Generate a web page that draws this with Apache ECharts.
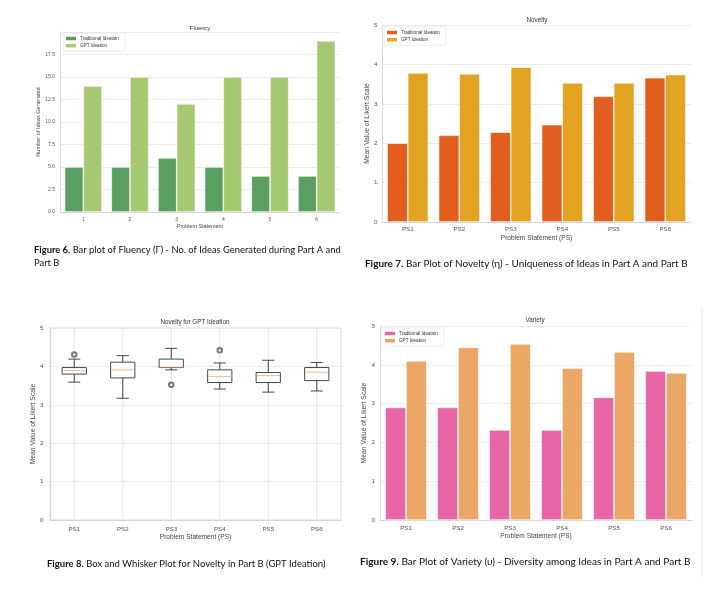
<!DOCTYPE html>
<html>
<head>
<meta charset="utf-8">
<script src="https://cdn.jsdelivr.net/npm/echarts@6/dist/echarts.min.js"></script>
<style>
html,body{margin:0;padding:0;background:#fff;}
#chart{width:710px;height:596px;}
</style>
</head>
<body>
<div id="chart"></div>
<script>
// ---------- data ----------
const fluencyCategories = ['1','2','3','4','5','6'];
const psCategories = ['PS1','PS2','PS3','PS4','PS5','PS6'];
const seriesNames = ['Traditional Ideation','GPT Ideation'];

const fluencyTraditional = [5,5,6,5,4,4];
const fluencyGPT = [14,15,12,15,15,19];

const noveltyTraditional = [2.00,2.20,2.28,2.47,3.19,3.66];
const noveltyGPT = [3.78,3.76,3.93,3.53,3.53,3.74];

const varietyTraditional = [2.90,2.90,2.32,2.32,3.16,3.84];
const varietyGPT = [4.10,4.45,4.54,3.91,4.33,3.79];

const boxMin    = [3.59,3.17,3.91,3.41,3.33,3.36];
const boxQ1     = [3.80,3.70,3.97,3.58,3.58,3.63];
const boxMedian = [3.89,3.91,3.98,3.74,3.76,3.85];
const boxQ3     = [3.97,4.11,4.19,3.91,3.84,3.97];
const boxMax    = [4.19,4.28,4.47,4.09,4.16,4.10];
const boxOutliers = [[0,4.31],[2,3.52],[3,4.42]];

const titles = ['Fluency','Novelty','Novelty for GPT Ideation','Variety'];
const captions = [
  ['Figure 6.',' Bar plot of Fluency (\u0393) - No. of Ideas Generated during Part A and'],
  ['Figure 7.',' Bar Plot of Novelty (\u03b7) - Uniqueness of Ideas in Part A and Part B'],
  ['Figure 8.',' Box and Whisker Plot for Novelty in Part B (GPT Ideation)'],
  ['Figure 9.',' Bar Plot of Variety (\u03c5) - Diversity among Ideas in Part A and Part B']
];
const caption6Line2 = 'Part B';

// ---------- styles ----------
const FONT = 'Liberation Sans, Arial, sans-serif';
const CAPFONT = 'Lato, Noto Sans, sans-serif';
const labelColor = '#555';
const gridColor = '#e6e6e6';
const spineColor = '#d0d0d0';

function fitSize(bold, normal, target, family, start) {
  const c = document.createElement('canvas').getContext('2d');
  c.font = 'bold ' + start + 'px ' + family;
  let w = c.measureText(bold).width;
  c.font = start + 'px ' + family;
  w += c.measureText(normal).width;
  return start * target / w;
}

const chart = echarts.init(document.getElementById('chart'), null, {renderer: 'canvas'});

function yAxisCfg(gi, max, interval, fs, margin, name, gap, fmt) {
  return {
    type: 'value', gridIndex: gi, min: 0, max: max, interval: interval,
    name: name, nameLocation: 'middle', nameGap: gap,
    nameTextStyle: {fontFamily: FONT, fontSize: fs + 0.6, color: '#444'},
    axisLine: {show: true, lineStyle: {color: spineColor, width: 0.8}},
    axisTick: {show: false},
    axisLabel: {fontFamily: FONT, fontSize: fs, color: labelColor, margin: margin,
      showMaxLabel: gi === 0 ? false : true, formatter: fmt},
    splitLine: {show: true, lineStyle: {color: gridColor, width: 0.8}}
  };
}
function xAxisCfg(gi, data, fs, margin, name, gap) {
  return {
    type: 'category', gridIndex: gi, data: data,
    name: name, nameLocation: 'middle', nameGap: gap,
    nameTextStyle: {fontFamily: FONT, fontSize: fs + 0.4, color: '#444'},
    axisLine: {show: true, lineStyle: {color: spineColor, width: 0.8}},
    axisTick: {show: false},
    axisLabel: {fontFamily: FONT, fontSize: fs, color: labelColor, margin: margin},
    splitLine: {show: false}
  };
}
function barSeries(key, name, xi, data, color) {
  return {
    type: 'bar', name: key + '|' + name, xAxisIndex: xi, yAxisIndex: xi, data: data,
    barGap: '0%', barCategoryGap: '20%',
    itemStyle: {color: color, borderColor: '#ffffff', borderWidth: 0.6},
    emphasis: {disabled: true}, animation: false
  };
}
function legendCfg(key, left, top, width) {
  return {
    orient: 'vertical', left: left, top: top, width: width,
    data: seriesNames.map(n => key + '|' + n),
    formatter: n => n.split('|')[1],
    icon: 'rect', itemWidth: 10, itemHeight: 3.5, itemGap: 2.2,
    padding: [3, 6, 3, 3],
    textStyle: {fontFamily: FONT, fontSize: 4.6, color: '#333', padding: [0,0,0,-1]},
    backgroundColor: '#fff', borderColor: '#dddddd', borderWidth: 0.6, borderRadius: 1.5,
    itemStyle: {borderWidth: 0}, selectedMode: false
  };
}

function boxRender(params, api) {
  const x = api.value(0);
  const lo = api.coord([x, api.value(1)]);
  const q1 = api.coord([x, api.value(2)]);
  const med = api.coord([x, api.value(3)]);
  const q3 = api.coord([x, api.value(4)]);
  const hi = api.coord([x, api.value(5)]);
  const bw = api.size([1, 0])[0] * 0.5;
  const cx = lo[0];
  const st = {stroke: '#333', lineWidth: 0.9, fill: null};
  return {
    type: 'group',
    children: [
      {type: 'line', shape: {x1: cx, y1: q3[1], x2: cx, y2: hi[1]}, style: st},
      {type: 'line', shape: {x1: cx, y1: q1[1], x2: cx, y2: lo[1]}, style: st},
      {type: 'line', shape: {x1: cx - bw/4, y1: hi[1], x2: cx + bw/4, y2: hi[1]}, style: st},
      {type: 'line', shape: {x1: cx - bw/4, y1: lo[1], x2: cx + bw/4, y2: lo[1]}, style: st},
      {type: 'rect', shape: {x: cx - bw/2, y: q3[1], width: bw, height: q1[1] - q3[1]},
        style: {stroke: '#333', lineWidth: 0.9, fill: '#fff'}},
      {type: 'line', shape: {x1: cx - bw/2 + 0.5, y1: med[1], x2: cx + bw/2 - 0.5, y2: med[1]},
        style: {stroke: '#f2a27c', lineWidth: 0.8}}
    ]
  };
}
function vGridRender(params, api) {
  const x = api.value(0);
  const a = api.coord([x, 0]);
  const b = api.coord([x, 5]);
  return {type: 'line', shape: {x1: a[0], y1: a[1], x2: b[0], y2: b[1]},
    style: {stroke: '#dedede', lineWidth: 0.8}};
}

const grids = [
  {left: 60, top: 32, width: 280, height: 180},
  {left: 382, top: 25, width: 309, height: 197},
  {left: 50, top: 328, width: 291, height: 192, show: true, borderColor: '#d4d4d4', borderWidth: 0.8, backgroundColor: 'transparent'},
  {left: 380, top: 326, width: 312, height: 194}
];

const titleCenters = [[200, 28], [537, 20], [195, 322.5], [535, 320.5]];
const titleSizes = [5.8, 6.3, 6.3, 6.3];

const graphics = [];
titles.forEach((t, i) => {
  graphics.push({type: 'text', x: titleCenters[i][0], y: titleCenters[i][1], silent: true,
    style: {text: t, fontFamily: FONT, fontSize: titleSizes[i], fill: '#333', textAlign: 'center', textVerticalAlign: 'middle'}});
});
const capPos = [[34, 250, 307], [365, 263.5, 323], [47, 563.5, 279], [360, 562, 331]];
captions.forEach((c, i) => {
  const fs = fitSize(c[0], c[1], capPos[i][2], CAPFONT, 10);
  graphics.push({type: 'text', x: capPos[i][0], y: capPos[i][1], silent: true,
    style: {text: '{b|' + c[0] + '}' + c[1], fontFamily: CAPFONT, fontSize: fs, fill: '#111',
      textVerticalAlign: 'middle',
      rich: {b: {fontFamily: CAPFONT, fontSize: fs, fontWeight: 'bold', fill: '#111'}}}});
  if (i === 0) {
    graphics.push({type: 'text', x: capPos[i][0], y: 262.5, silent: true,
      style: {text: caption6Line2, fontFamily: CAPFONT, fontSize: fs, fill: '#111', textVerticalAlign: 'middle'}});
  }
});
graphics.push({type: 'line', silent: true, shape: {x1: 702, y1: 307, x2: 702, y2: 577},
  style: {stroke: '#ececec', lineWidth: 1}});

const boxData = psCategories.map((c, i) => [i, boxMin[i], boxQ1[i], boxMedian[i], boxQ3[i], boxMax[i]]);

const option = {
  backgroundColor: '#ffffff',
  animation: false,
  grid: grids,
  legend: [
    legendCfg('F', 63, 33, 57),
    legendCfg('N', 384, 27, 64),
    legendCfg('V', 382, 328, 64)
  ],
  xAxis: [
    xAxisCfg(0, fluencyCategories, 5, 5.5, 'Problem Statement', 12),
    xAxisCfg(1, psCategories, 6.2, 4.5, 'Problem Statement (PS)', 12.5),
    xAxisCfg(2, psCategories, 6.2, 6, 'Problem Statement (PS)', 14),
    xAxisCfg(3, psCategories, 6.2, 5, 'Problem Statement (PS)', 12.5)
  ],
  yAxis: [
    yAxisCfg(0, 20, 2.5, 5, 5, 'Number of Ideas Generated', 17, v => v.toFixed(1)),
    yAxisCfg(1, 5, 1, 6.2, 4.5, 'Mean Value of Likert Scale', 10.8),
    yAxisCfg(2, 5, 1, 6.2, 6.5, 'Mean Value of Likert Scale', 12.8),
    yAxisCfg(3, 5, 1, 6.2, 5, 'Mean Value of Likert Scale', 11.8)
  ],
  graphic: graphics,
  series: [
    barSeries('F', seriesNames[0], 0, fluencyTraditional, '#5b9e62'),
    barSeries('F', seriesNames[1], 0, fluencyGPT, '#a5c870'),
    barSeries('N', seriesNames[0], 1, noveltyTraditional, '#e25e1f'),
    barSeries('N', seriesNames[1], 1, noveltyGPT, '#e2a323'),
    barSeries('V', seriesNames[0], 3, varietyTraditional, '#e866a6'),
    barSeries('V', seriesNames[1], 3, varietyGPT, '#eaa766'),
    {
      type: 'custom', name: 'vgrid', xAxisIndex: 2, yAxisIndex: 2, z: 1, silent: true,
      renderItem: vGridRender, encode: {x: 0, y: 1},
      data: boxData
    },
    {
      type: 'custom', name: 'box', xAxisIndex: 2, yAxisIndex: 2, z: 3,
      renderItem: boxRender,
      encode: {x: 0, y: [1, 2, 3, 4, 5]},
      data: boxData
    },
    {
      type: 'scatter', name: 'outliers', xAxisIndex: 2, yAxisIndex: 2, z: 4,
      data: boxOutliers, symbol: 'emptyCircle', symbolSize: 4.5,
      itemStyle: {color: '#555', borderColor: '#555', borderWidth: 0.6},
      emphasis: {disabled: true}
    }
  ]
};
chart.setOption(option);
</script>
</body>
</html>
